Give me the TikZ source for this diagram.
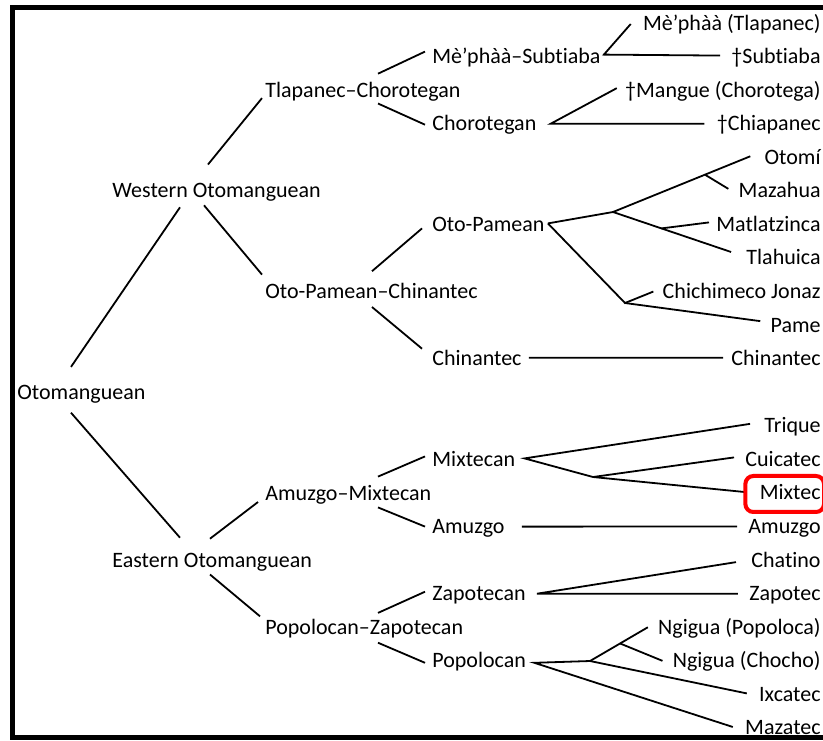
\documentclass[tikz,border=0pt]{standalone}
\usepackage{fontspec}
\setmainfont{Carlito}[Ligatures={TeX,NoCommon}]
\usepackage{tikz}
\usetikzlibrary{positioning}
\tikzstyle{family} = [anchor=west, inner sep=0pt, text height=8pt, text depth=1pt, font=\fontsize{11pt}{13pt}\selectfont]
\tikzstyle{language} = [family, anchor=east]
\tikzstyle{branch} = [line width=0.9pt]
\tikzstyle{frame} = [line width=2.5pt]
\tikzstyle{highlight} = [draw=red, line width=2pt, rounded corners=4pt]

\begin{document}
\begin{tikzpicture}[x=0.5pt, y=-0.5pt]
\useasboundingbox (0,0) rectangle (823,740);
\draw[frame] (823,7.5) -- (12.5,7.5) -- (12.5,737.5) -- (823,737.5);

% families, left to right
\node[family] (otomanguean) at (17,392.3) {Otomanguean};
\node[family] (western) at (112,190.9) {Western Otomanguean};
\node[family] (eastern) at (112,560.1) {Eastern Otomanguean};
\node[family] (tlacho) at (265,90.1) {Tlapanec–Chorotegan};
\node[family] (opchin) at (265,291.6) {Oto-Pamean–Chinantec};
\node[family] (amumix) at (265,493) {Amuzgo–Mixtecan};
\node[family] (popzap) at (265,627.3) {Popolocan–Zapotecan};
\node[family] (mesub) at (432,56.6) {Mè’phàà–Subtiaba};
\node[family] (chorot) at (432,123.7) {Chorotegan};
\node[family] (otopam) at (432,224.4) {Oto-Pamean};
\node[family] (chinan) at (432,358.7) {Chinantec};
\node[family] (mixtecan) at (432,459.4) {Mixtecan};
\node[family] (amuzgo) at (432,526.6) {Amuzgo};
\node[family] (zapotecan) at (432,593.7) {Zapotecan};
\node[family] (popolocan) at (432,660.8) {Popolocan};

% languages, one row each
\foreach \id/\k/\txt in {ltlap/0/Mè’phàà (Tlapanec), lsubt/1/†Subtiaba,
    lmang/2/†Mangue (Chorotega), lchia/3/†Chiapanec, lotom/4/Otomí,
    lmaza/5/Mazahua, lmatl/6/Matlatzinca, ltlah/7/Tlahuica,
    lchic/8/Chichimeco Jonaz, lpame/9/Pame, lchin/10/Chinantec,
    ltriq/12/Trique, lcuic/13/Cuicatec, lmixt/14/Mixtec, lamuz/15/Amuzgo,
    lchat/16/Chatino, lzapo/17/Zapotec, lpopo/18/Ngigua (Popoloca),
    lchoc/19/Ngigua (Chocho), lixca/20/Ixcatec, lmazt/21/Mazatec}
  \node[language] (\id) at (821,{23+33.57*\k}) {\txt};

% top levels
\draw[branch] ([shift={(54,-16)}]otomanguean.north west) -- ([shift={(68,7)}]western.south west);
\draw[branch] ([shift={(54,11)}]otomanguean.south west) -- ([shift={(68,-13)}]eastern.north west);
\draw[branch] ([shift={(96,-17)}]western.north west) -- ([shift={(-3,8)}]tlacho.west);
\draw[branch] ([shift={(92,5)}]western.south west) -- ([shift={(-3,-17)}]opchin.west);
\draw[branch] ([shift={(98,-12)}]eastern.north west) -- ([shift={(-7,9)}]amumix.west);
\draw[branch] ([shift={(98,5)}]eastern.south west) -- ([shift={(-5,-11)}]popzap.west);

% second level
\draw[branch] ([shift={(113,-7)}]tlacho.north west) -- ([shift={(-7,-5)}]mesub.west);
\draw[branch] ([shift={(113,4)}]tlacho.south west) -- ([shift={(-7,1)}]chorot.west);
\draw[branch] ([shift={(107,-11)}]opchin.north west) -- ([shift={(-10,4)}]otopam.west);
\draw[branch] ([shift={(107,6)}]opchin.south west) -- ([shift={(-10,-10)}]chinan.west);
\draw[branch] ([shift={(113,-7)}]amumix.north west) -- ([shift={(-7,-3)}]mixtecan.west);
\draw[branch] ([shift={(113,5)}]amumix.south west) -- ([shift={(-7,0)}]amuzgo.west);
\draw[branch] ([shift={(113,-5)}]popzap.north west) -- ([shift={(-7,-2)}]zapotecan.west);
\draw[branch] ([shift={(113,6)}]popzap.south west) -- ([shift={(-7,2)}]popolocan.west);

% Tlapanec-Chorotegan
\coordinate (jmesub) at ([shift={(3,-2)}]mesub.east);
\draw[branch] ([shift={(-12,1)}]ltlap.west) -- (jmesub) -- ([shift={(-11,-1)}]lsubt.west);
\coordinate (jchorot) at ([shift={(14,0)}]chorot.east);
\draw[branch] ([shift={(-8,-2)}]lmang.west) -- (jchorot) -- ([shift={(-12,0)}]lchia.west);

% Oto-Pamean
\coordinate (jotopam) at ([shift={(3,-1)}]otopam.east);
\coordinate (jop) at (613,212);
\coordinate (jchp) at (625,303);
\draw[branch] (jotopam) -- (jop) -- coordinate[pos=0.67] (jmaz) ([shift={(-14,-1)}]lotom.west);
\draw[branch] (jmaz) -- ([shift={(-10,-2)}]lmaza.west);
\draw[branch] (jop) -- coordinate[pos=0.41] (jmatl) ([shift={(-15,-6)}]ltlah.west);
\draw[branch] (jmatl) -- ([shift={(-7,-2)}]lmatl.west);
\draw[branch] (jotopam) -- (jchp) -- ([shift={(-9,0)}]lchic.west);
\draw[branch] (jchp) -- ([shift={(-10,-4)}]lpame.west);

% Chinantec
\draw[branch] ([shift={(7,-1)}]chinan.east) -- ([shift={(-8,-1)}]lchin.west);

% Mixtecan
\coordinate (jmixtecan) at ([shift={(9,-1)}]mixtecan.east);
\coordinate (jmix) at (593,477);
\draw[branch] ([shift={(-14,-2)}]ltriq.west) -- (jmixtecan) -- (jmix) -- ([shift={(-15,-1)}]lmixt.west);
\draw[branch] (jmix) -- ([shift={(-11,-2)}]lcuic.west);

% Amuzgo
\draw[branch] ([shift={(17,0)}]amuzgo.east) -- ([shift={(-11,0)}]lamuz.west);

% Zapotecan
\coordinate (jzapo) at ([shift={(11,0)}]zapotecan.east);
\draw[branch] ([shift={(-15,2)}]lchat.west) -- (jzapo) -- ([shift={(-11,0)}]lzapo.west);

% Popolocan
\coordinate (jpopolocan) at ([shift={(8,2)}]popolocan.east);
\coordinate (jpop) at (590,661);
\draw[branch] ([shift={(-12,-1)}]lmazt.west) -- (jpopolocan) -- (jpop) -- coordinate[pos=0.52] (jchoc) ([shift={(-10,0)}]lpopo.west);
\draw[branch] (jchoc) -- ([shift={(-10,0)}]lchoc.west);
\draw[branch] (jpop) -- ([shift={(-12,-1)}]lixca.west);

% highlighted language
\draw[highlight] ([shift={(-14,-17)}]lmixt.west) rectangle ([shift={(3,19)}]lmixt.east);

\end{tikzpicture}
\end{document}
